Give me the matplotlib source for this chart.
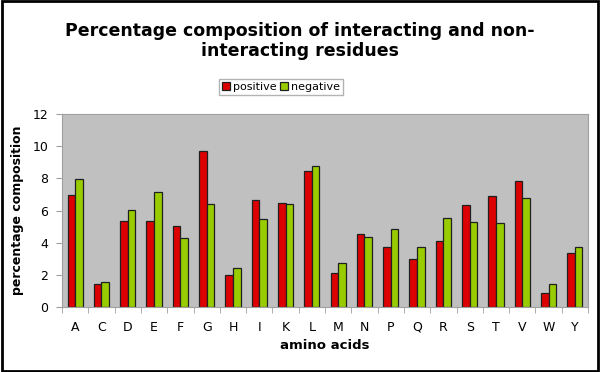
import matplotlib
matplotlib.use("Agg")
import matplotlib.pyplot as plt
import numpy as np
from matplotlib.patches import Rectangle

categories = ["A","C","D","E","F","G","H","I","K","L","M","N","P","Q","R","S","T","V","W","Y"]
positive = [6.97,1.43,5.34,5.34,5.02,9.67,1.99,6.64,6.46,8.43,2.10,4.55,3.70,3.01,4.13,6.37,6.89,7.85,0.87,3.36]
negative = [7.95,1.54,6.04,7.12,4.30,6.39,2.45,5.50,6.41,8.74,2.76,4.38,4.86,3.76,5.54,5.31,5.21,6.75,1.45,3.70]
yticks = [0,2,4,6,8,10,12]

plt.rcParams['font.family'] = ['DejaVu Sans']
fig = plt.figure(figsize=(6,3.72), dpi=100)
ax = fig.add_axes([62/600, 1-307/372, 526/600, 193/372])
ax.set_facecolor('#c0c0c0')

x = np.arange(len(categories))
w = 0.29
ax.bar(x - w/2, positive, w, color='#dd0000', edgecolor='#202020', linewidth=0.9, label='positive')
ax.bar(x + w/2, negative, w, color='#99cc00', edgecolor='#202020', linewidth=0.9, label='negative')

ax.set_xlim(-0.5, len(categories)-0.5)
ax.set_ylim(0, 12)
ax.set_yticks(yticks)
ax.set_yticklabels([str(v) for v in yticks], fontsize=9)
ax.set_xticks(x)
ax.set_xticklabels(categories, fontsize=9)
ax.tick_params(axis='x', length=0, pad=10)
ax.set_xticks(np.arange(-0.5, len(categories), 1), minor=True)
ax.tick_params(axis='x', which='minor', length=4, color='#a0a0a0')
ax.tick_params(axis='y', length=4, color='#a0a0a0', pad=6)
for s in ['left','bottom']:
    ax.spines[s].set_color('#a0a0a0')
for s in ['top','right']:
    ax.spines[s].set_color('#a0a0a0')
    ax.spines[s].set_linewidth(0.8)

ax.set_ylabel('percentage composition', fontsize=9, fontweight='bold', labelpad=6)
ax.set_xlabel('amino acids', fontsize=9.5, fontweight='bold', labelpad=4)

fig.text(0.5, 1-41/372, 'Percentage composition of interacting and non-\ninteracting residues',
         ha='center', va='center', fontsize=12.5, fontweight='bold', linespacing=1.2)

leg = fig.legend(loc='center', bbox_to_anchor=(281/600, 1-87/372), ncol=2, fontsize=8,
                 frameon=True, fancybox=False, edgecolor='#a0a0a0', handlelength=0.7,
                 handleheight=0.7, handletextpad=0.25, columnspacing=0.3, borderpad=0.3,
                 borderaxespad=0)

fig.patches.append(Rectangle((0.003,0.004), 0.994, 0.992, transform=fig.transFigure,
                             fill=False, edgecolor='black', linewidth=2))
fig.savefig('out.png', dpi=100)
